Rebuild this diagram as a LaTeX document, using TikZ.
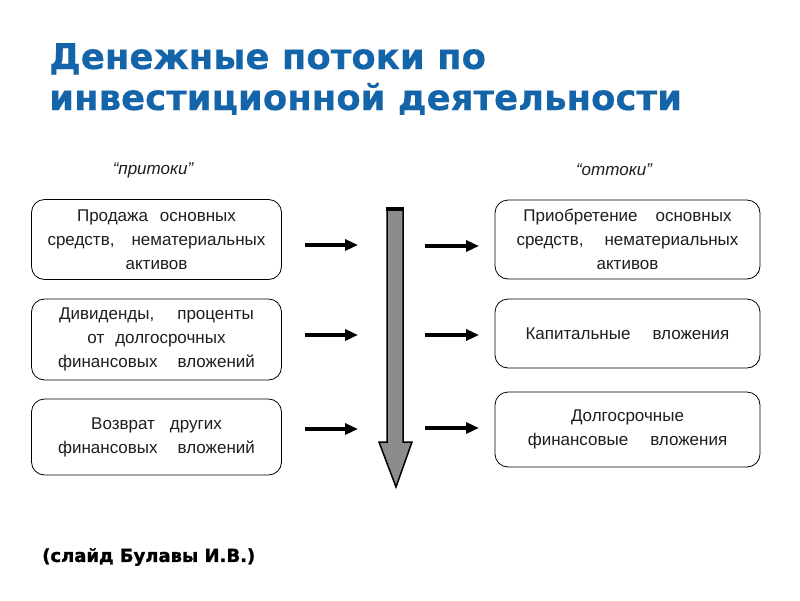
\documentclass[tikz,border=0pt]{standalone}
\usepackage{fontspec}
\setmainfont{Liberation Sans}
\newfontfamily\titlefont{DejaVu Sans}[BoldFeatures={FakeBold=0.4}]
\newfontfamily\heavyfont{DejaVu Sans}[BoldFeatures={FakeBold=1.3}]
\usetikzlibrary{arrows.meta}
\definecolor{titleblue}{RGB}{20,100,170}
\definecolor{txtgray}{RGB}{30,30,30}
\definecolor{arrgray}{RGB}{140,140,140}
\newcommand\gp[1]{\hspace{#1pt}}
\tikzset{
  flowbox/.style={draw=black, line width=0.8pt, rounded corners=13pt, fill=white,
    align=center, text=txtgray, inner sep=0pt,
    font=\fontsize{17}{24}\selectfont},
  smallarr/.style={line width=3.2pt, -{Triangle[length=13pt,width=11pt]}},
  headlbl/.style={font=\fontsize{17}{20}\selectfont\itshape, text=txtgray},
  titletxt/.style={anchor=base west, inner sep=0pt, text=titleblue,
    font=\titlefont\bfseries\fontsize{35.5}{41}\selectfont},
}
\begin{document}
\begin{tikzpicture}[x=1pt,y=-1pt]
\useasboundingbox[fill=white] (0,0) rectangle (800,600);

% title
\node[titletxt] (t1) at (49,69) {Денежные потоки по};
\node[titletxt] (t2) at (49,110) {инвестиционной деятельности};

% column headings
\node[headlbl] (hin) at (153,170) {“притоки”};
\node[headlbl] (hout) at (614,170) {“оттоки”};

% left boxes
\node[flowbox, minimum width=250pt, minimum height=80pt] (L1) at (156.5,239.5)
  {Продажа\gp{12}основных\\средств,\gp{17}нематериальных\\активов};
\node[flowbox, minimum width=250pt, minimum height=81pt] (L2) at (156.5,339.5)
  {Дивиденды,\gp{23}проценты\\от\gp{11}долгосрочных\\финансовых\gp{20}вложений};
\node[flowbox, minimum width=250pt, minimum height=76pt] (L3) at (156.5,437)
  {Возврат\gp{15}других\\финансовых\gp{20}вложений};

% right boxes
\node[flowbox, minimum width=265pt, minimum height=79pt] (R1) at (627.5,239.5)
  {Приобретение\gp{18}основных\\средств,\gp{21}нематериальных\\активов};
\node[flowbox, minimum width=265pt, minimum height=69pt] (R2) at (627.5,333.5)
  {Капитальные\gp{22}вложения};
\node[flowbox, minimum width=265pt, minimum height=75pt] (R3) at (627.5,429.5)
  {Долгосрочные\\финансовые\gp{22}вложения};

% big downward arrow
\draw[fill=arrgray, line width=1.5pt, line join=miter]
  (387,208) -- (403,208) -- (403,442) -- (412,442) -- (396,487) -- (379,442) -- (387,442) -- cycle;
\draw[line width=3.5pt] (386.25,209) -- (403.75,209);

% small arrows
\coordinate (la1s) at (305,245); \coordinate (la1e) at (358,245);
\coordinate (la2s) at (305,335); \coordinate (la2e) at (358,335);
\coordinate (la3s) at (305,429); \coordinate (la3e) at (358,429);
\coordinate (ra1s) at (425,246); \coordinate (ra1e) at (479,246);
\coordinate (ra2s) at (425,335); \coordinate (ra2e) at (479,335);
\coordinate (ra3s) at (425,428); \coordinate (ra3e) at (479,428);
\draw[smallarr] (la1s) -- (la1e);
\draw[smallarr] (la2s) -- (la2e);
\draw[smallarr] (la3s) -- (la3e);
\draw[smallarr] (ra1s) -- (ra1e);
\draw[smallarr] (ra2s) -- (ra2e);
\draw[smallarr] (ra3s) -- (ra3e);

% footer
\node[anchor=west, inner sep=0pt, text=black, font=\heavyfont\bfseries\fontsize{18}{20}\selectfont] (foot) at (42,557) {(слайд Булавы И.В.)};
\end{tikzpicture}
\end{document}
